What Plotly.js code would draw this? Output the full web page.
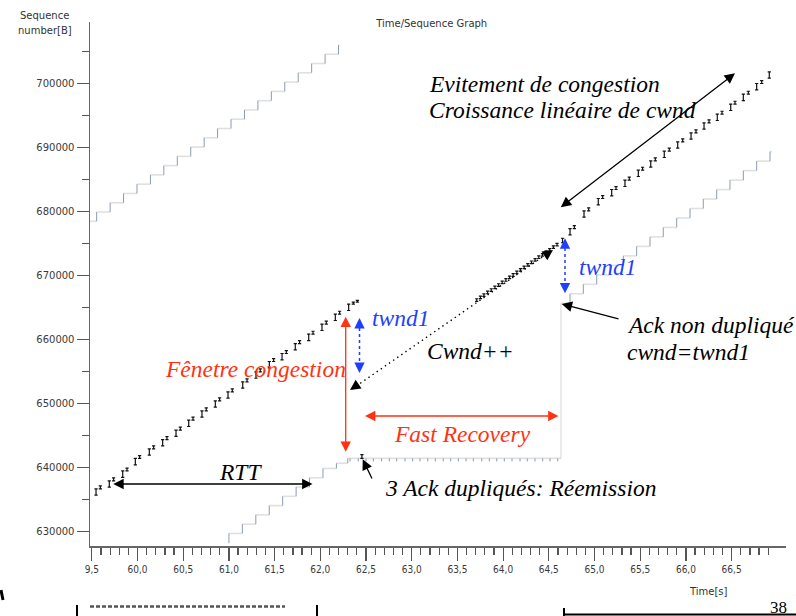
<!DOCTYPE html>
<html><head><meta charset="utf-8">
<script src="https://cdn.plot.ly/plotly-3.0.1.min.js"></script>
<style>html,body{margin:0;padding:0;background:#fff}#chart{width:796px;height:616px}</style>
</head><body><div id="chart"></div>
<script>
// ---- data ----
// upper grey step line (receive window)
const winTime = [59.480, 59.553, 59.700, 59.847, 59.994, 60.141, 60.288, 60.435, 60.582, 60.729, 60.876, 61.023, 61.170, 61.317, 61.464, 61.611, 61.758, 61.905, 62.052, 62.199, 62.210];
const winSeq  = [678500, 679950, 681400, 682850, 684300, 685750, 687200, 688650, 690100, 691550, 693000, 694450, 695900, 697350, 698800, 700250, 701700, 703150, 704600, 706050, 706050];
// lower grey step line (acknowledged sequence)
const ackTime = [61.000, 61.000, 61.147, 61.294, 61.441, 61.588, 61.735, 61.882, 62.029, 62.176, 62.300, 64.633, 64.732, 64.877, 65.024, 65.169, 65.315, 65.461, 65.607, 65.752, 65.899, 66.045, 66.190, 66.337, 66.482, 66.628, 66.774, 66.920, 66.940];
const ackSeq  = [628200, 629730, 631180, 632630, 634080, 635530, 636980, 638430, 639880, 640700, 641450, 665700, 667180, 668660, 670140, 671620, 673100, 674580, 676060, 677540, 679020, 680500, 681980, 683460, 684940, 686420, 687900, 689380, 689380];
// duplicate acks (fast recovery)
const dupAckTime = [62.325, 62.415, 62.500, 62.580, 62.670, 62.755, 62.835, 62.926, 63.010, 63.090, 63.175, 63.258, 63.345, 63.426, 63.510, 63.594, 63.674, 63.766, 63.849, 63.930, 64.013, 64.097, 64.185, 64.264, 64.349, 64.433, 64.513, 64.597];
const dupAckSeq = 641450;
// sent segments (I-beams)
const segTime = [
  59.546, 59.593, 59.691, 59.738, 59.838, 59.885, 59.976, 60.023, 60.129, 60.176,
  60.275, 60.322, 60.421, 60.468, 60.560, 60.607, 60.705, 60.752, 60.851, 60.898,
  60.990, 61.037, 61.151, 61.198, 61.296, 61.343, 61.442, 61.489, 61.581, 61.628,
  61.726, 61.773, 61.873, 61.920, 62.018, 62.065, 62.164, 62.211, 62.310, 62.361, 62.405,
  62.455,
  63.711, 63.752, 63.790, 63.830, 63.870, 63.910, 63.950, 63.990, 64.030, 64.070, 64.110, 64.150,
  64.190, 64.230, 64.270, 64.310, 64.350, 64.390, 64.430, 64.470, 64.510, 64.550, 64.590,
  64.650,
  64.732, 64.779, 64.885, 64.936, 65.041, 65.089, 65.188, 65.235, 65.333, 65.380,
  65.479, 65.526, 65.615, 65.665, 65.763, 65.818, 65.910, 65.965, 66.056, 66.110,
  66.198, 66.253, 66.343, 66.395, 66.490, 66.537, 66.628, 66.683, 66.774, 66.829, 66.912
];
const segSeq = [
  635700, 636700, 636950, 637950, 638500, 639500, 640450, 641450, 641950, 642950,
  643400, 644400, 644880, 645880, 646440, 647440, 647890, 648890, 649450, 650450,
  650860, 651860, 652420, 653420, 653980, 654980, 655590, 656590, 656840, 657840,
  658400, 659400, 659870, 660870, 661440, 662440, 663000, 664000, 664560, 665560, 665860,
  641450,
  666000, 666420, 666760, 667180, 667560, 667970, 668340, 668760, 669130, 669540, 669910, 670330,
  670700, 671110, 671490, 671900, 672270, 672690, 673060, 673470, 673840, 674260, 674650,
  675150,
  676370, 677370, 679140, 680140, 681060, 682060, 682470, 683470, 683940, 684940,
  685500, 686500, 686950, 687950, 688470, 689470, 689920, 690920, 691330, 692330,
  692890, 693890, 694250, 695250, 695810, 696810, 697370, 698370, 699030, 700030, 700860
];
const segLen = [
  1000, 448, 1000, 448, 1000, 448, 1000, 448, 1000, 448,
  1000, 448, 1000, 448, 1000, 448, 1000, 448, 1000, 448,
  1000, 448, 1000, 448, 1000, 448, 1000, 448, 1000, 448,
  1000, 448, 1000, 448, 1000, 448, 1000, 448, 1000, 300, 300,
  600,
  400, 400, 400, 400, 400, 400, 400, 400, 400, 400, 400, 400,
  400, 400, 400, 400, 400, 400, 400, 400, 400, 400, 400,
  700,
  1000, 448, 1000, 448, 1000, 448, 1000, 448, 1000, 448,
  1000, 448, 1000, 448, 1000, 448, 1000, 448, 1000, 448,
  1000, 448, 1000, 448, 1000, 448, 1000, 448, 1000, 448, 1000
];
const xTickVals = [59.5, 60.0, 60.5, 61.0, 61.5, 62.0, 62.5, 63.0, 63.5, 64.0, 64.5, 65.0, 65.5, 66.0, 66.5];
const xTickText = ['9,5', '60,0', '60,5', '61,0', '61,5', '62,0', '62,5', '63,0', '63,5', '64,0', '64,5', '65,0', '65,5', '66,0', '66,5'];
const yTickVals = [630000, 640000, 650000, 660000, 670000, 680000, 690000, 700000];
const yTickText = ['630000', '640000', '650000', '660000', '670000', '680000', '690000', '700000'];

// ---- geometry helpers (pixel -> axis / paper) ----
const X0 = 59.48, PXS = 91.4, Y0PX = 467.7, BPP = 156.25;
const X = px => X0 + (px - 90) / PXS;
const Y = py => 640000 + (Y0PX - py) * BPP;
const PX = px => (px - 90) / 696;
const PY = py => (546 - py) / 524;

// build step-line pieces
function steps(t, v) {
  const h = {x: [], y: []}, r = {x: [], y: []}, big = {x: [], y: []};
  for (let i = 0; i < t.length - 1; i++) {
    if (t[i + 1] > t[i]) { h.x.push(t[i], t[i + 1], null); h.y.push(v[i], v[i], null); }
    if (v[i + 1] !== v[i]) {
      const tgt = (v[i + 1] - v[i] > 5000) ? big : r;
      tgt.x.push(t[i + 1], t[i + 1], null); tgt.y.push(v[i], v[i + 1], null);
    }
  }
  return {h, r, big};
}
const W = steps(winTime, winSeq);
const A = steps(ackTime, ackSeq);
const LIGHT = '#e0e0e0', RISER = '#8a9cb0';
const lineTrace = (d, color, width) => ({x: d.x, y: d.y, type: 'scatter', mode: 'lines', line: {color, width}, hoverinfo: 'skip'});

const traces = [
  lineTrace(W.h, LIGHT, 1.6), lineTrace(W.r, RISER, 1.0),
  lineTrace(A.h, LIGHT, 1.6), lineTrace(A.r, RISER, 1.0), lineTrace(A.big, '#d3d6da', 1.0),
  {x: dupAckTime, y: dupAckTime.map(() => dupAckSeq), type: 'scatter', mode: 'markers',
   marker: {size: 0.1, color: 'rgba(0,0,0,0)'},
   error_y: {type: 'data', symmetric: false, array: dupAckTime.map(() => 0), arrayminus: dupAckTime.map(() => 480), width: 0, thickness: 1.0, color: RISER}},
  {x: segTime, y: segSeq.map((s, i) => s + segLen[i] / 2), type: 'scatter', mode: 'markers',
   marker: {size: 0.1, color: 'rgba(0,0,0,0)'},
   error_y: {type: 'data', symmetric: true, array: segLen.map(l => l / 2), width: 1.6, thickness: 1.2, color: '#111'}}
];

// minor ticks
const xMinor = []; for (let k = 596; k <= 669; k++) { if (k % 5) xMinor.push(k / 10); }
const yMinor = []; for (let v = 635000; v <= 705000; v += 10000) yMinor.push(v);

const RED = '#ff3311', BLUE = '#1f3fff';
const serif = (color) => ({family: 'Liberation Serif', size: 23.5, color, style: 'italic'});
const txt = (text, px, py, color) => ({text, xref: 'paper', yref: 'paper', x: PX(px), y: PY(py), xanchor: 'left', yanchor: 'middle', showarrow: false, font: serif(color)});
const sans = (text, px, py) => ({text, xref: 'paper', yref: 'paper', x: PX(px), y: PY(py), xanchor: 'center', yanchor: 'middle', showarrow: false, font: {family: 'DejaVu Sans', size: 10, color: '#333'}});
const arrow = (hx, hy, tx, ty, color, both) => ({text: '', x: X(hx), y: Y(hy), ax: X(tx), ay: Y(ty), xref: 'x', yref: 'y', axref: 'x', ayref: 'y',
  showarrow: true, arrowside: both ? 'end+start' : 'end', arrowhead: 2, startarrowhead: 2, arrowsize: 1.6, startarrowsize: 1.6, arrowwidth: 1.3, arrowcolor: color});
const head = (hx, hy, dx, dy, color) => ({text: '', x: X(hx), y: Y(hy), ax: dx, ay: dy, xref: 'x', yref: 'y', showarrow: true, arrowhead: 2, arrowsize: 1.6, arrowwidth: 1.3, arrowcolor: color});

const annotations = [
  sans('Sequence', 44.7, 15.5), sans('number[B]', 45, 30), sans('Time[s]', 708.7, 591),
  txt('Evitement de congestion', 426.7, 83.5, '#000'),
  txt('Croissance linéaire de cwnd', 426.7, 110, '#000'),
  txt('RTT', 217, 472, '#000'),
  txt('Fênetre congestion', 163.3, 369, RED),
  txt('twnd1', 370, 318, BLUE),
  txt('twnd1', 576.7, 267, BLUE),
  txt('Cwnd++', 425, 351, '#000'),
  txt('Fast Recovery', 391.7, 434, RED),
  txt('3 Ack dupliqués: Réemission', 383, 488, '#000'),
  txt('Ack non dupliqué', 625, 325, '#000'),
  txt('cwnd=twnd1', 625, 352, '#000'),
  {text: '38', xref: 'paper', yref: 'paper', x: PX(778.3), y: PY(607.5), xanchor: 'center', yanchor: 'middle', showarrow: false, font: {family: 'Liberation Serif', size: 17, color: '#000'}},
  arrow(113.3, 484, 314, 484, '#000', true),
  arrow(345.7, 316.7, 345.7, 453.3, RED, true),
  arrow(365, 416, 560, 416, RED, true),
  arrow(735, 73.3, 559.3, 208.3, '#000', true),
  arrow(362.7, 459.3, 372.7, 480, '#000', false),
  arrow(561.7, 304, 620, 319.3, '#000', false),
  head(359.5, 318, 0, 9, BLUE), head(359.5, 373, 0, -9, BLUE),
  head(565, 238.3, 0, 9, BLUE), head(565, 293.3, 0, -9, BLUE),
  head(350, 390, 6.6, -4.5, '#000'), head(553, 250, -6.6, 4.5, '#000')
];

const pline = (x0, y0, x1, y1, color, width, dash) => ({type: 'line', xref: 'paper', yref: 'paper', x0: PX(x0), y0: PY(y0), x1: PX(x1), y1: PY(y1), line: {color, width, dash: dash || 'solid'}});
const dline = (x0, y0, x1, y1, color, width, dash) => ({type: 'line', xref: 'x', yref: 'y', x0: X(x0), y0: Y(y0), x1: X(x1), y1: Y(y1), line: {color, width, dash: dash || 'dot'}});
const shapes = [
  dline(359.5, 322, 359.5, 369, BLUE, 1.5),
  dline(565, 242, 565, 289, BLUE, 1.5),
  dline(352, 389, 551, 251, '#000', 1.4, '1.4px,3.6px'),
  pline(77, 605, 77, 616, '#000', 2), pline(317, 605, 317, 616, '#000', 2),
  pline(90, 606.5, 285, 606.5, '#555', 2.5, '4px,2px'),
  pline(564, 608, 564, 616, '#000', 2), pline(564, 614.5, 796, 614.5, '#000', 2),
  pline(1, 590, 3, 600, '#000', 3)
];

const tickFont = {family: 'DejaVu Sans', size: 10, color: '#3a3a3a'};
const layout = {
  width: 796, height: 616, margin: {l: 90, r: 10, t: 22, b: 70, autoexpand: false},
  paper_bgcolor: '#fff', plot_bgcolor: '#fff', showlegend: false, hovermode: false,
  title: {text: 'Time/Sequence Graph', x: 431.7 / 796, xanchor: 'center', y: 1 - 23 / 616, yanchor: 'middle', font: {family: 'DejaVu Sans', size: 10, color: '#333'}},
  xaxis: {range: [X(90), X(786)], tickmode: 'array', tickvals: xTickVals, ticktext: xTickText, ticks: 'outside', ticklen: 13, tickwidth: 1.2, tickcolor: '#555',
    tickfont: {family: 'DejaVu Sans Condensed, DejaVu Sans', size: 10, color: '#3a3a3a'},
    showline: true, linecolor: '#666', linewidth: 1.5, showgrid: false, zeroline: false,
    minor: {tickmode: 'array', tickvals: xMinor, ticks: 'outside', ticklen: 7, tickwidth: 1.2, tickcolor: '#555', showgrid: false}},
  yaxis: {range: [Y(546), Y(22)], tickmode: 'array', tickvals: yTickVals, ticktext: yTickText, ticks: 'outside', ticklen: 12, tickwidth: 1.2, tickcolor: '#555',
    tickfont: tickFont, showline: true, linecolor: '#666', linewidth: 1.5, showgrid: false, zeroline: false,
    minor: {tickmode: 'array', tickvals: yMinor, ticks: 'outside', ticklen: 7, tickwidth: 1.2, tickcolor: '#555', showgrid: false}},
  annotations, shapes
};
Plotly.newPlot('chart', traces, layout, {staticPlot: true, displayModeBar: false});
</script></body></html>
